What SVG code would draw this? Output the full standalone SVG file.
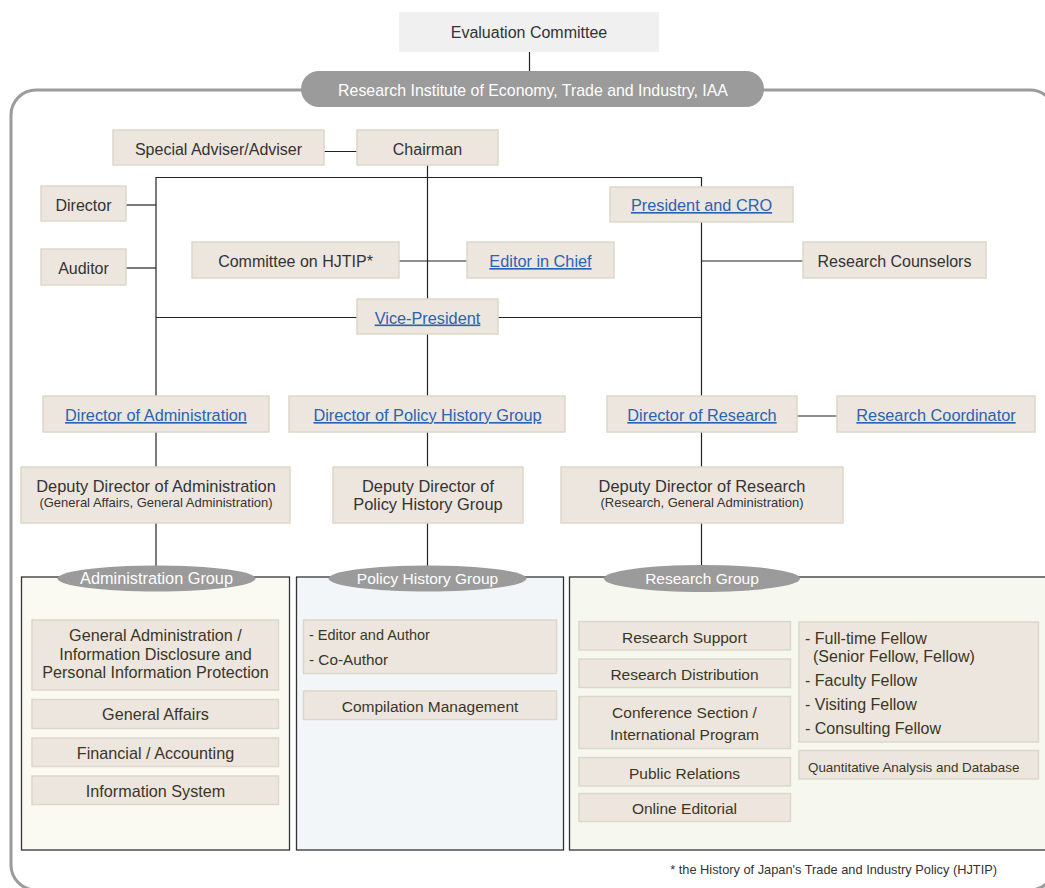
<svg xmlns="http://www.w3.org/2000/svg" width="1045" height="888" viewBox="0 0 1045 888">
<style>
  text { font-family: "Liberation Sans", Arial, sans-serif; }
  .box { fill: #ede6df; stroke: #dcd8c9; stroke-width: 1.5; }
  .t { font-size: 16px; fill: #333333; text-anchor: middle; }
  .dp { font-size: 16.4px; fill: #333333; text-anchor: middle; }
  .sub { font-size: 13px; fill: #333333; text-anchor: middle; }
  .lk { font-size: 16.3px; fill: #2a62b5; text-anchor: middle; text-decoration: underline; }
  .it { font-size: 15.5px; fill: #3a3626; text-anchor: middle; }
  .ia { font-size: 16.2px; fill: #3a3626; text-anchor: middle; }
  .itl { font-size: 16px; fill: #3a3626; }
  .sm { font-size: 14.5px; fill: #3a3626; }
  .lbl { font-size: 15.5px; fill: #ffffff; text-anchor: middle; }
  .ell { fill: #9b9b9b; }
  .grp { stroke: #333333; stroke-width: 1.3; }
  .conn line { stroke: #222222; stroke-width: 1.2; }
</style>

<!-- outer frame -->
<rect x="11" y="90" width="1044" height="800" rx="25" fill="none" stroke="#9b9b9b" stroke-width="3"/>

<g id="connectors" class="conn">
  <line x1="529.5" y1="52" x2="529.5" y2="71"/>
  <line x1="324" y1="151.5" x2="357" y2="151.5"/>
  <line x1="427.5" y1="165" x2="427.5" y2="299"/>
  <line x1="156" y1="177.5" x2="701.5" y2="177.5"/>
  <line x1="701.5" y1="177" x2="701.5" y2="187"/>
  <line x1="156" y1="177" x2="156" y2="396"/>
  <line x1="126" y1="205" x2="156" y2="205"/>
  <line x1="126" y1="268" x2="156" y2="268"/>
  <line x1="399" y1="261" x2="467" y2="261"/>
  <line x1="701.5" y1="222" x2="701.5" y2="396"/>
  <line x1="701.5" y1="261" x2="803" y2="261"/>
  <line x1="156" y1="317.5" x2="357" y2="317.5"/>
  <line x1="498" y1="317.5" x2="701.5" y2="317.5"/>
  <line x1="427.5" y1="334" x2="427.5" y2="396"/>
  <line x1="797" y1="416" x2="837" y2="416"/>
  <line x1="156" y1="432" x2="156" y2="467"/>
  <line x1="156" y1="523" x2="156" y2="566"/>
  <line x1="427.5" y1="432" x2="427.5" y2="467"/>
  <line x1="427.5" y1="523" x2="427.5" y2="566"/>
  <line x1="701.5" y1="432" x2="701.5" y2="467"/>
  <line x1="701.5" y1="523" x2="701.5" y2="566"/>
</g>

<g id="evaluation-committee">
  <rect x="399" y="12" width="260" height="40" fill="#eff0ef"/>
  <text class="t" x="529" y="38">Evaluation Committee</text>
</g>

<g id="rieti">
  <rect x="301" y="71" width="463" height="36" rx="18" fill="#9b9b9b"/>
  <text class="lbl" x="533" y="95.5" style="font-size:15.9px">Research Institute of Economy, Trade and Industry, IAA</text>
</g>

<g id="special-adviser">
  <rect class="box" x="113" y="130" width="211" height="35"/>
  <text class="t" x="218.5" y="154.5">Special Adviser/Adviser</text>
</g>
<g id="chairman">
  <rect class="box" x="357" y="130" width="141" height="35"/>
  <text class="t" x="427.5" y="154.5">Chairman</text>
</g>
<g id="director">
  <rect class="box" x="41" y="186" width="85" height="35"/>
  <text class="t" x="83.5" y="211">Director</text>
</g>
<g id="auditor">
  <rect class="box" x="41" y="249" width="85" height="36"/>
  <text class="t" x="83.5" y="274">Auditor</text>
</g>
<g id="president">
  <rect class="box" x="610" y="187" width="183" height="35"/>
  <text class="lk" x="701.5" y="211">President and CRO</text>
</g>
<g id="committee-hjtip">
  <rect class="box" x="192" y="242" width="207" height="36"/>
  <text class="t" x="295.5" y="267">Committee on HJTIP*</text>
</g>
<g id="editor-in-chief">
  <rect class="box" x="467" y="242" width="147" height="36"/>
  <text class="lk" x="540.5" y="267">Editor in Chief</text>
</g>
<g id="research-counselors">
  <rect class="box" x="803" y="242" width="183" height="36"/>
  <text class="t" x="894.5" y="267">Research Counselors</text>
</g>
<g id="vice-president">
  <rect class="box" x="357" y="299" width="141" height="35"/>
  <text class="lk" x="427.5" y="323.5">Vice-President</text>
</g>

<g id="director-administration">
  <rect class="box" x="43" y="396" width="226" height="36"/>
  <text class="lk" x="156" y="421">Director of Administration</text>
</g>
<g id="director-policy-history">
  <rect class="box" x="289" y="396" width="276" height="36"/>
  <text class="lk" x="427.5" y="421">Director of Policy History Group</text>
</g>
<g id="director-research">
  <rect class="box" x="607" y="396" width="190" height="36"/>
  <text class="lk" x="702" y="421">Director of Research</text>
</g>
<g id="research-coordinator">
  <rect class="box" x="837" y="396" width="198" height="36"/>
  <text class="lk" x="936" y="421">Research Coordinator</text>
</g>

<g id="deputy-administration">
  <rect class="box" x="21" y="467" width="269" height="56"/>
  <text class="dp" x="156" y="491.5">Deputy Director of Administration</text>
  <text class="sub" x="156" y="507">(General Affairs, General Administration)</text>
</g>
<g id="deputy-policy-history">
  <rect class="box" x="333" y="467" width="190" height="56"/>
  <text class="dp" x="428" y="492">Deputy Director of</text>
  <text class="dp" x="428" y="510">Policy History Group</text>
</g>
<g id="deputy-research">
  <rect class="box" x="561" y="467" width="282" height="56"/>
  <text class="dp" x="702" y="491.5">Deputy Director of Research</text>
  <text class="sub" x="702" y="507">(Research, General Administration)</text>
</g>

<!-- Administration Group -->
<g id="administration-group">
  <rect class="grp" x="21.5" y="577" width="268" height="273" fill="#fbfaf2"/>
  <ellipse class="ell" cx="156.5" cy="578.5" rx="99" ry="13"/>
  <text class="lbl" x="156.5" y="584" style="font-size:16.3px">Administration Group</text>
  <rect class="box" x="32" y="620" width="246.5" height="70"/>
  <text class="ia" x="155.5" y="641">General Administration /</text>
  <text class="ia" x="155.5" y="659.5">Information Disclosure and</text>
  <text class="ia" x="155.5" y="678">Personal Information Protection</text>
  <rect class="box" x="32" y="699.5" width="246.5" height="29"/>
  <text class="ia" x="155.5" y="720">General Affairs</text>
  <rect class="box" x="32" y="738" width="246.5" height="28.5"/>
  <text class="ia" x="155.5" y="758.5">Financial / Accounting</text>
  <rect class="box" x="32" y="776" width="246.5" height="28.5"/>
  <text class="ia" x="155.5" y="797">Information System</text>
</g>

<!-- Policy History Group -->
<g id="policy-history-group">
  <rect class="grp" x="296.5" y="577" width="267" height="273" fill="#f2f6f8"/>
  <ellipse class="ell" cx="427.5" cy="578.5" rx="99" ry="13"/>
  <text class="lbl" x="427.5" y="584">Policy History Group</text>
  <rect class="box" x="303.5" y="620" width="253" height="53.5"/>
  <text class="sm" x="309" y="640">- Editor and Author</text>
  <text class="sm" x="309" y="664.5" style="font-size:15.3px">- Co-Author</text>
  <rect class="box" x="303.5" y="691" width="253" height="28.5"/>
  <text class="it" x="430" y="711.5">Compilation Management</text>
</g>

<!-- Research Group -->
<g id="research-group">
  <rect class="grp" x="569.5" y="577" width="490" height="273" fill="#f6f8f0"/>
  <ellipse class="ell" cx="702" cy="578.5" rx="98" ry="13.5"/>
  <text class="lbl" x="702" y="584">Research Group</text>
  <rect class="box" x="579" y="621.5" width="211.5" height="28.5"/>
  <text class="it" x="684.5" y="642.5">Research Support</text>
  <rect class="box" x="579" y="659" width="211.5" height="28.5"/>
  <text class="it" x="684.5" y="680">Research Distribution</text>
  <rect class="box" x="579" y="696.5" width="211.5" height="52"/>
  <text class="it" x="684.5" y="718">Conference Section /</text>
  <text class="it" x="684.5" y="739.5">International Program</text>
  <rect class="box" x="579" y="757.5" width="211.5" height="28.5"/>
  <text class="it" x="684.5" y="778.5">Public Relations</text>
  <rect class="box" x="579" y="793.5" width="211.5" height="28"/>
  <text class="it" x="684.5" y="814">Online Editorial</text>
  <rect class="box" x="799" y="622" width="239.5" height="120"/>
  <text class="itl" x="805" y="643.5">- Full-time Fellow</text>
  <text class="itl" x="813" y="662">(Senior Fellow, Fellow)</text>
  <text class="itl" x="805" y="686">- Faculty Fellow</text>
  <text class="itl" x="805" y="710">- Visiting Fellow</text>
  <text class="itl" x="805" y="734">- Consulting Fellow</text>
  <rect class="box" x="799" y="750.5" width="239.5" height="28.5"/>
  <text class="sm" x="808" y="771.5" style="font-size:13.4px">Quantitative Analysis and Database</text>
</g>

<g id="footnote">
  <text x="997" y="874" style="font-size:12.8px" fill="#333333" text-anchor="end">* the History of Japan's Trade and Industry Policy (HJTIP)</text>
</g>
</svg>
